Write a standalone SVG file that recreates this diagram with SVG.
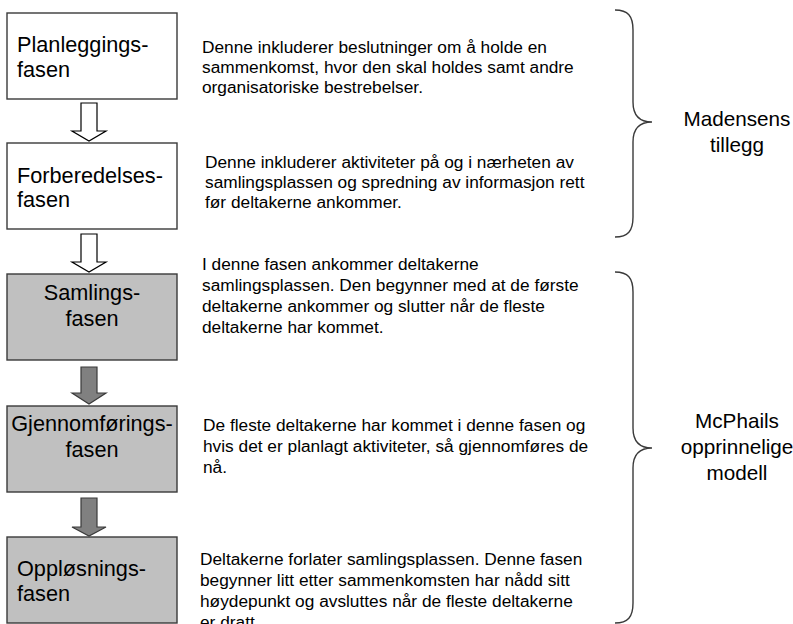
<svg xmlns="http://www.w3.org/2000/svg" width="793" height="624" viewBox="0 0 793 624">
<style>
.box{stroke:#3a3a3a;stroke-width:1.4}
.w{fill:#ffffff}
.g{fill:#c0c0c0}
.arw{fill:#ffffff;stroke:#000000;stroke-width:1.2}
.arg{fill:#808080;stroke:#3a3a3a;stroke-width:1.2}
.lbl{font-family:"Liberation Sans",Arial,sans-serif;font-size:21.7px;fill:#000}
.c{text-anchor:middle}
.d{font-family:"Liberation Sans",Arial,sans-serif;font-size:17.3px;fill:#000}
.br{fill:none;stroke:#3a3a3a;stroke-width:1.4}
.side{font-family:"Liberation Sans",Arial,sans-serif;font-size:20.7px;fill:#000;text-anchor:middle}
</style>
<rect width="793" height="624" fill="#ffffff"/>
<g id="connectors">
<path class="arw" d="M81,103 L97,103 L97,131 L106,131 L89,141 L72,131 L81,131 Z"/>
<path class="arw" d="M81,234 L97,234 L97,262 L106,262 L89,272 L72,262 L81,262 Z"/>
<path class="arg" d="M81,367 L97,367 L97,393 L106,393 L89,404 L72,393 L81,393 Z"/>
<path class="arg" d="M81,498 L97,498 L97,527 L106,527 L89,536 L72,527 L81,527 Z"/>
</g>
<g id="node-planlegging">
<rect class="box w" x="7" y="13" width="170" height="86"/>
<text class="lbl" x="17" y="52">Planleggings-</text>
<text class="lbl" x="17" y="77">fasen</text>
</g>
<g id="node-forberedelse">
<rect class="box w" x="7" y="143" width="170" height="86"/>
<text class="lbl" x="17" y="183">Forberedelses-</text>
<text class="lbl" x="17" y="207">fasen</text>
</g>
<g id="node-samling">
<rect class="box g" x="7" y="274" width="170" height="86"/>
<text class="lbl c" x="92" y="300">Samlings-</text>
<text class="lbl c" x="92" y="326">fasen</text>
</g>
<g id="node-gjennomforing">
<rect class="box g" x="7" y="406" width="170" height="86"/>
<text class="lbl c" x="92" y="431">Gjennomførings-</text>
<text class="lbl c" x="92" y="457">fasen</text>
</g>
<g id="node-opplosning">
<rect class="box g" x="7" y="537" width="170" height="86"/>
<text class="lbl" x="17" y="576">Oppløsnings-</text>
<text class="lbl" x="17" y="601">fasen</text>
</g>
<g id="desc-planlegging">
<text class="d" x="202" y="53">Denne inkluderer beslutninger om å holde en</text>
<text class="d" x="202" y="73">sammenkomst, hvor den skal holdes samt andre</text>
<text class="d" x="202" y="93">organisatoriske bestrebelser.</text>
</g>
<g id="desc-forberedelse">
<text class="d" x="205" y="168">Denne inkluderer aktiviteter på og i nærheten av</text>
<text class="d" x="205" y="188">samlingsplassen og spredning av informasjon rett</text>
<text class="d" x="205" y="208">før deltakerne ankommer.</text>
</g>
<g id="desc-samling">
<text class="d" x="202" y="270">I denne fasen ankommer deltakerne</text>
<text class="d" x="202" y="291">samlingsplassen. Den begynner med at de første</text>
<text class="d" x="202" y="312">deltakerne ankommer og slutter når de fleste</text>
<text class="d" x="202" y="333">deltakerne har kommet.</text>
</g>
<g id="desc-gjennomforing">
<text class="d" x="203" y="431">De fleste deltakerne har kommet i denne fasen og</text>
<text class="d" x="203" y="452">hvis det er planlagt aktiviteter, så gjennomføres de</text>
<text class="d" x="203" y="473">nå.</text>
</g>
<g id="desc-opplosning">
<text class="d" x="200" y="565">Deltakerne forlater samlingsplassen. Denne fasen</text>
<text class="d" x="200" y="586">begynner litt etter sammenkomsten har nådd sitt</text>
<text class="d" x="200" y="607">høydepunkt og avsluttes når de fleste deltakerne</text>
<text class="d" x="200" y="628">er dratt</text>
</g>
<g id="brace-madsen">
<path class="br" d="M615,10 C628,10 633,16 633,30 L633,102 C633,116 640,122 652,122 C640,122 633,128 633,142 L633,217 C633,231 628,237 615,237"/>
<text class="side" x="737" y="126">Madensens</text>
<text class="side" x="737" y="152">tillegg</text>
</g>
<g id="brace-mcphail">
<path class="br" d="M615,272 C628,272 633,278 633,292 L633,428 C633,442 640,448 652,448 C640,448 633,454 633,468 L633,603 C633,617 628,623 615,623"/>
<text class="side" x="737" y="428">McPhails</text>
<text class="side" x="737" y="454">opprinnelige</text>
<text class="side" x="737" y="480">modell</text>
</g>
</svg>
